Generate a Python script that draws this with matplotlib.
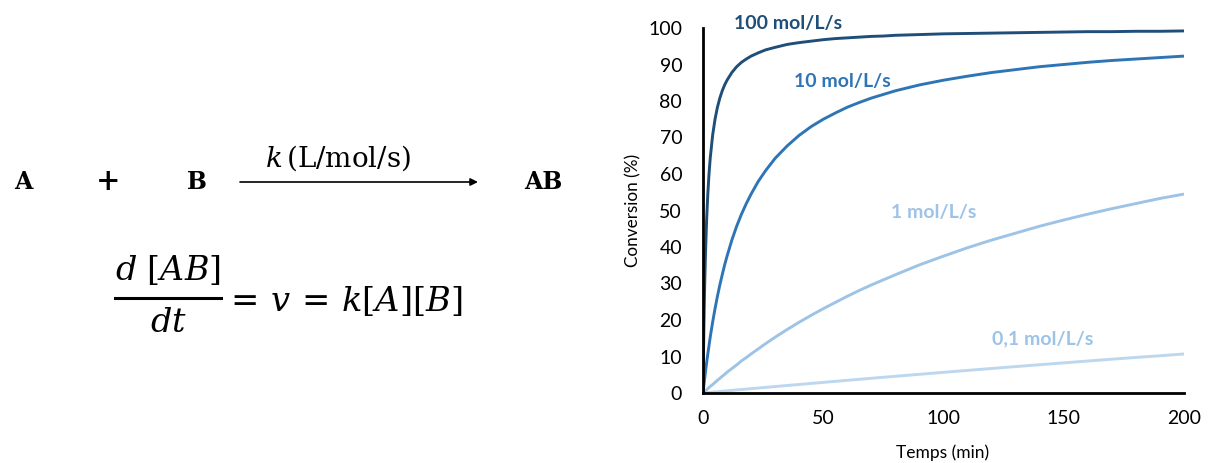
import matplotlib
matplotlib.use('Agg')
import matplotlib.pyplot as plt

plt.rcParams['font.family'] = ['Lato', 'DejaVu Sans']
plt.rcParams['mathtext.fontset'] = 'dejavuserif'

W, H = 1208, 463

# temps (min) et conversions
temps = [0, 0.25, 0.5, 0.75, 1, 1.5, 2, 2.5, 3, 4, 5, 6, 7, 8, 9, 10, 12, 14, 16, 18, 20, 23, 26, 30, 35, 40, 45, 50,
         55, 60, 65, 70, 75, 80, 90, 100, 110, 120, 130, 140, 150, 160, 170, 180, 190, 200]
conv_100 = [0, 13, 23.1, 31, 37.5, 47.4, 54.5, 60, 64.3, 70.6, 75, 78.3, 80.8, 82.8, 84.4, 85.7, 87.8, 89.4, 90.6, 91.5,
            92.3, 93.2, 94, 94.7, 95.5, 96, 96.4, 96.8, 97.1, 97.3, 97.5, 97.7, 97.8, 98, 98.2, 98.4, 98.5, 98.6, 98.7,
            98.8, 98.9, 99, 99, 99.1, 99.1, 99.2]
conv_10 = [0, 1.5, 2.9, 4.3, 5.7, 8.3, 10.7, 13, 15.3, 19.4, 23.1, 26.5, 29.6, 32.4, 35.1, 37.5, 41.9, 45.7, 49, 51.9,
           54.5, 58, 60.9, 64.3, 67.7, 70.6, 73, 75, 76.7, 78.3, 79.6, 80.8, 81.8, 82.8, 84.4, 85.7, 86.8, 87.8, 88.6,
           89.4, 90, 90.6, 91.1, 91.5, 91.9, 92.3]
conv_1 = [0, 0.15, 0.3, 0.45, 0.6, 0.9, 1.2, 1.5, 1.8, 2.3, 2.9, 3.5, 4, 4.6, 5.1, 5.7, 6.7, 7.7, 8.8, 9.7, 10.7, 12.1,
          13.5, 15.3, 17.4, 19.4, 21.3, 23.1, 24.8, 26.5, 28.1, 29.6, 31, 32.4, 35.1, 37.5, 39.8, 41.9, 43.8, 45.7,
          47.4, 49, 50.5, 51.9, 53.3, 54.5]
conv_01 = [0, 0.015, 0.03, 0.045, 0.06, 0.09, 0.12, 0.15, 0.18, 0.24, 0.3, 0.36, 0.42, 0.48, 0.54, 0.6, 0.72, 0.84, 0.95,
           1.07, 1.2, 1.36, 1.54, 1.77, 2.06, 2.34, 2.63, 2.91, 3.19, 3.47, 3.75, 4.03, 4.31, 4.58, 5.12, 5.66, 6.19,
           6.72, 7.24, 7.75, 8.26, 8.76, 9.26, 9.75, 10.2, 10.7]

xticks = [0, 50, 100, 150, 200]
yticks = [0, 10, 20, 30, 40, 50, 60, 70, 80, 90, 100]


def fx(px):
    return px / W


def fy(py):
    return 1 - py / H


fig = plt.figure(figsize=(W / 100, H / 100), dpi=100)

# Graphique
ax = fig.add_axes([fx(703), fy(393), (1184 - 703) / W, (393 - 28) / H])
ax.plot(temps, conv_01, color='#bdd7ee', lw=2.1, solid_capstyle='butt')
ax.plot(temps, conv_1, color='#9dc3e6', lw=2.1, solid_capstyle='butt')
ax.plot(temps, conv_10, color='#2e75b6', lw=2.1, solid_capstyle='butt')
ax.plot(temps, conv_100, color='#1f4e79', lw=2.1, solid_capstyle='butt')
ax.set_xlim(0, 200)
ax.set_ylim(0, 100)
ax.set_xticks(xticks)
ax.set_yticks(yticks)
ax.tick_params(length=0, labelsize=14)
ax.tick_params(axis='y', pad=15)
ax.tick_params(axis='x', pad=12)
for s in ['top', 'right']:
    ax.spines[s].set_visible(False)
for s in ['left', 'bottom']:
    ax.spines[s].set_linewidth(2)

fig.text(fx(943), fy(453), 'Temps (min)', fontsize=12.5, ha='center', va='center')
fig.text(fx(633), fy(210), 'Conversion (%)', fontsize=12.3, rotation=90, ha='center', va='center')

fig.text(fx(788), fy(24), '100 mol/L/s', color='#1f4e79', fontsize=14, fontweight='bold', ha='center', va='center')
fig.text(fx(842), fy(81), '10 mol/L/s', color='#2e75b6', fontsize=14, fontweight='bold', ha='center', va='center')
fig.text(fx(934), fy(213), '1 mol/L/s', color='#9dc3e6', fontsize=14, fontweight='bold', ha='center', va='center')
fig.text(fx(1043), fy(339), '0,1 mol/L/s', color='#9dc3e6', fontsize=14, fontweight='bold', ha='center', va='center')

# Réaction
for label, px, size in [('A', 23, 17), ('+', 108, 21), ('B', 197, 17), ('AB', 543, 17)]:
    fig.text(fx(px), fy(182), label, family='DejaVu Serif', fontweight='bold', fontsize=size, ha='center', va='center')

fig.text(fx(338), fy(158), r'$k\,\mathrm{(L/mol/s)}$', fontsize=20, ha='center', va='center')
fig.add_artist(matplotlib.patches.FancyArrowPatch(
    (fx(240), fy(182)), (fx(478), fy(182)), transform=fig.transFigure,
    arrowstyle='-|>', mutation_scale=11, lw=1.2, color='black', shrinkA=0, shrinkB=0))

# Équation de vitesse
fig.text(fx(168), fy(270), r'$d\ [AB]$', fontsize=24, ha='center', va='center')
fig.text(fx(168), fy(323), r'$dt$', fontsize=24, ha='center', va='center')
fig.add_artist(plt.Line2D([fx(115), fx(221)], [fy(298), fy(298)], color='black', lw=2.2))
fig.text(fx(224), fy(301), r'$=\,v\,=\,k[A][B]$', fontsize=24.3, ha='left', va='center')

fig.savefig('out.png', dpi=100)
